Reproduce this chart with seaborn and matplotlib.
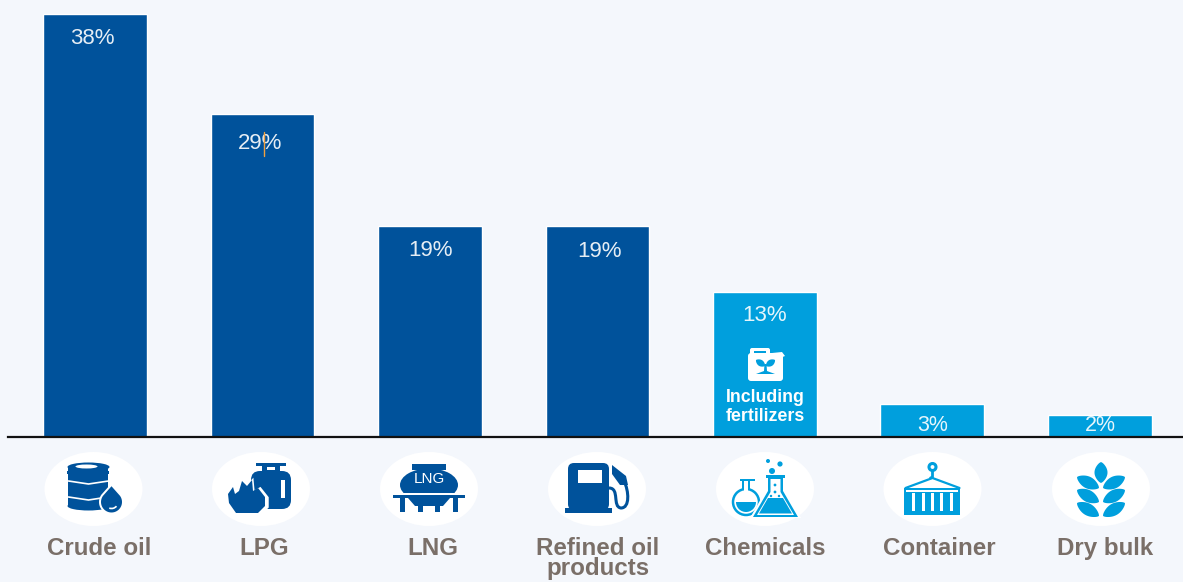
import numpy as np
import matplotlib
matplotlib.use("Agg")
import matplotlib.pyplot as plt
from matplotlib.patches import Ellipse, Circle, Rectangle, Polygon, FancyBboxPatch, Arc, PathPatch, Wedge
from matplotlib.path import Path
from matplotlib.transforms import ScaledTranslation
import seaborn as sns

cargo_types = ["Crude oil", "LPG", "LNG", "Refined oil\nproducts", "Chemicals", "Container", "Dry bulk"]
shares = [38, 29, 19, 19, 13, 3, 2]
share_labels = ["38%", "29%", "19%", "19%", "13%", "3%", "2%"]

DARK = "#00529B"
LIGHT = "#009FDD"
BG = "#F4F7FC"
TEXT = "#7A6F68"
bar_colors = [DARK, DARK, DARK, DARK, LIGHT, LIGHT, LIGHT]

sns.set_theme(style="white")
plt.rcParams["font.family"] = ["Liberation Sans", "DejaVu Sans"]

W, H = 1183, 582
fig = plt.figure(figsize=(W / 100, H / 100), dpi=100, facecolor=BG)

# Bar panel: the zero line sits at the bottom edge of these axes
ax = fig.add_axes([8 / W, (H - 437) / H, (W - 8) / W, 437 / H], facecolor="none")
sns.barplot(x=cargo_types, y=shares, hue=cargo_types, palette=bar_colors,
            legend=False, dodge=False, width=0.62, saturation=1, ax=ax)
ax.set_xlim(-0.519, 6.496)
ax.set_ylim(0, 39.28)
ax.set_yticks([])
ax.set_ylabel("")
ax.set_xlabel("")
sns.despine(ax=ax, left=True)
ax.spines["bottom"].set_color("#111111")
ax.spines["bottom"].set_linewidth(1.6)
ax.tick_params(axis="x", length=0, pad=72)

# Category names under the icons, each shifted a few pixels off its bar centre
category_shift_px = [4.5, 1.5, 2.5, 0.5, 0.5, 6.5, 5]
for tick, shift in zip(ax.get_xticklabels(), category_shift_px):
    tick.set_fontsize(17.4)
    tick.set_fontweight("bold")
    tick.set_color(TEXT)
    tick.set_linespacing(0.84)
    tick.set_transform(tick.get_transform() + ScaledTranslation(shift / 100, 0, fig.dpi_scale_trans))

# Percentages inside the bars, with per-label pixel nudges
value_dx_px = [-3, -2, 0.5, 2.5, -0.5, 0, 0.5]
value_dy_px = [24.5, 29, 25, 25.5, 23.5, 0, 0]
for i, (value, label) in enumerate(zip(shares, share_labels)):
    if value <= 3:
        # the two shortest bars hold their label just above the zero line
        ax.annotate(label, (i, 0), xytext=(value_dx_px[i] * 0.72, 11.5 * 0.72), textcoords="offset points",
                    ha="center", va="center", color="white", fontsize=15.5, alpha=0.9)
    else:
        ax.annotate(label, (i, value), xytext=(value_dx_px[i] * 0.72, -value_dy_px[i] * 0.72),
                    textcoords="offset points", ha="center", va="center", color="white",
                    fontsize=16, alpha=0.9)

# Overlay in pixel units for the pictograms
ov = fig.add_axes([0, 0, 1, 1], facecolor="none")
ov.set_xlim(0, W)
ov.set_ylim(H, 0)
ov.axis("off")


def rect(x0, y0, x1, y1, color, z=3):
    ov.add_patch(Rectangle((x0, y0), x1 - x0, y1 - y0, fc=color, ec="none", zorder=z))


def rrect(x0, y0, x1, y1, r, color, z=3):
    ov.add_patch(FancyBboxPatch((x0 + r, y0 + r), x1 - x0 - 2 * r, y1 - y0 - 2 * r,
                                boxstyle=f"round,pad={r},rounding_size={r}",
                                fc=color, ec="none", zorder=z))


def poly(points, color, z=3):
    ov.add_patch(Polygon(points, closed=True, fc=color, ec="none", zorder=z))


def lens(x0, y0, x1, y1, bulge, color, z=3):
    """Pointed leaf between two tips."""
    p0, p1 = np.array([x0, y0], float), np.array([x1, y1], float)
    d = p1 - p0
    n = np.array([-d[1], d[0]]) / np.hypot(*d)
    t = np.linspace(0, 1, 24)[:, None]
    mid = p0 + d * t
    offset = (np.sin(np.pi * t) ** 0.7) * bulge * n
    poly(np.vstack([mid + offset, (mid - offset)[::-1]]), color, z)


def drop(x, y, r, color, z):
    t = np.linspace(-0.2 * np.pi, 1.2 * np.pi, 40)
    arc = np.c_[x + r * np.cos(t), y + r * np.sin(t)]
    poly(np.vstack([arc, [[x, y - 1.5 * r]]]), color, z)


def barrel(cx, cy):
    rect(cx - 25, cy - 22, cx + 15, cy + 18, DARK)
    ov.add_patch(Ellipse((cx - 5, cy - 22), 42, 9, fc=DARK, ec="none", zorder=3))
    ov.add_patch(Ellipse((cx - 7, cy - 22.5), 22, 4, fc="white", ec="none", zorder=4))
    ov.add_patch(Ellipse((cx - 5, cy + 17), 42, 9, fc=DARK, ec="none", zorder=3))
    rect(cx - 26, cy - 18, cx + 16, cy - 15, DARK)
    ov.plot([cx - 25, cx - 5, cx + 15], [cy - 8, cy - 5, cy - 8], color="white", lw=1.2, zorder=4)
    ov.plot([cx - 25, cx - 5, cx + 8], [cy + 8, cy + 11, cy + 9], color="white", lw=1.2, zorder=4)
    drop(cx + 18, cy + 13, 12.5, "white", 4)
    drop(cx + 18, cy + 13, 10.5, DARK, 5)
    ov.add_patch(Arc((cx + 18, cy + 13), 13, 13, theta1=40, theta2=110, color="white", lw=1.2, zorder=6))


def lpg(cx, cy):
    rect(cx - 5, cy - 26, cx + 25, cy - 23, DARK)
    rect(cx + 1, cy - 23, cx + 19, cy - 15, DARK)
    rect(cx + 6, cy - 22, cx + 14, cy - 19, "white", 4)
    rrect(cx - 10, cy - 18, cx + 30, cy + 20, 9, DARK)
    rect(cx + 20, cy - 9, cx + 24, cy + 9, "white", 4)
    flame = [(-32, 14), (-33, 5), (-28, -2), (-26, 5), (-22, 2), (-19, -8), (-14, -3), (-9, -9),
             (-8, 2), (-3, -1), (4, 8), (4, 17), (-3, 24), (-25, 24)]
    halo = [(cx + 1.18 * x + 3, cy + 1.15 * y - 1) for x, y in flame]
    poly(halo, "white", 4)
    poly([(cx + x, cy + y) for x, y in flame], DARK, 5)


def lng(cx, cy):
    rect(cx - 17, cy - 25, cx + 17, cy - 19, DARK)
    ov.add_patch(Ellipse((cx, cy - 4), 58, 33, fc=DARK, ec="none", zorder=3))
    rect(cx - 36, cy + 3.5, cx + 36, cy + 6, "white", 4)
    ov.text(cx, cy - 10, "LNG", color="white", fontsize=11, ha="center", va="center", zorder=5)
    rect(cx - 36, cy + 6, cx + 36, cy + 9, DARK, 5)
    for x0 in (-29, 24, -11, 6):
        rect(cx + x0, cy + 9, cx + x0 + 5, cy + 23, DARK)
    poly([(cx - 21, cy + 9), (cx + 21, cy + 9), (cx + 14, cy + 17), (cx - 14, cy + 17)], DARK)


def pump(cx, cy):
    rrect(cx - 29, cy - 26, cx + 12, cy + 21, 6, DARK)
    rect(cx - 32, cy + 19, cx + 15, cy + 24, DARK)
    rect(cx - 19, cy - 19, cx + 5, cy - 6, "white", 4)
    hose = Path([(cx + 12, cy - 1), (cx + 23, cy - 1), (cx + 15, cy + 18), (cx + 24, cy + 19),
                 (cx + 33, cy + 19), (cx + 32, cy + 2), (cx + 27, cy - 8)],
                [Path.MOVETO, Path.CURVE4, Path.CURVE4, Path.CURVE4, Path.CURVE4, Path.CURVE4, Path.CURVE4])
    ov.add_patch(PathPatch(hose, fc="none", ec=DARK, lw=2.2, zorder=3))
    poly([(cx + 15, cy - 24), (cx + 29, cy - 13), (cx + 31, cy - 4), (cx + 23, cy - 4), (cx + 15, cy - 15)], DARK)


def chemicals(cx, cy):
    # round flask
    ov.add_patch(Circle((cx - 19, cy + 13), 13, fc="white", ec=LIGHT, lw=1.8, zorder=3))
    ov.add_patch(Wedge((cx - 19, cy + 13), 10, 0, 180, fc=LIGHT, ec="none", zorder=4))
    rect(cx - 25, cy - 10, cx - 10, cy - 8, LIGHT, 5)
    rect(cx - 23, cy - 9, cx - 21, cy + 1, LIGHT, 4)
    rect(cx - 17, cy - 9, cx - 15, cy + 1, LIGHT, 4)
    rect(cx - 21, cy - 8, cx - 17, cy + 3, "white", 4)
    # conical flask, white halo first so it stands clear of the round one
    poly([(cx + 1, cy - 13), (cx + 20, cy - 13), (cx + 20, cy + 1), (cx + 36, cy + 29),
          (cx - 15, cy + 29), (cx + 1, cy + 1)], "white", 5)
    poly([(cx + 3, cy - 11), (cx + 18, cy - 11), (cx + 18, cy + 2), (cx + 33, cy + 28),
          (cx - 12, cy + 28), (cx + 3, cy + 2)], LIGHT, 5)
    poly([(cx + 5.5, cy - 10), (cx + 15.5, cy - 10), (cx + 15.5, cy + 3), (cx + 29, cy + 26),
          (cx - 8, cy + 26), (cx + 5.5, cy + 3)], "white", 6)
    poly([(cx + 3, cy + 9), (cx + 18, cy + 9), (cx + 27, cy + 24.5), (cx - 6, cy + 24.5)], LIGHT, 7)
    rect(cx + 1, cy - 14, cx + 20, cy - 11, LIGHT, 7)
    for x, y, r in [(3, -28, 2), (15, -25, 2.6), (7, -18, 3), (10, -4, 1.4), (10, 3, 1.4), (6, 7, 1.2), (14, 7, 1.2)]:
        ov.add_patch(Circle((cx + x, cy + y), r, fc=LIGHT, ec="none", zorder=8))


def container(cx, cy):
    ov.add_patch(Circle((cx, cy - 22), 3.5, fc="white", ec=LIGHT, lw=2.2, zorder=3))
    ov.plot([cx, cx, cx - 2], [cy - 18, cy - 12, cy - 11], color=LIGHT, lw=2, zorder=3)
    ov.plot([cx - 27, cx, cx + 27], [cy - 1, cy - 11, cy - 1], color=LIGHT, lw=1.6, zorder=3)
    rect(cx - 28, cy - 1, cx + 28, cy + 26, LIGHT)
    rect(cx - 26, cy + 1, cx + 26, cy + 3, "white", 4)
    for x in (-19, -9, 0, 9, 19):
        rect(cx + x - 1.2, cy + 4, cx + x + 1.2, cy + 22, "white", 4)


def wheat(cx, cy):
    lens(cx, cy - 27, cx, cy - 6, 6.5, LIGHT)
    for low, high in [(-1, -12), (13, 1), (27, 14)]:
        lens(cx - 2, cy + low, cx - 24, cy + high, 6, LIGHT)
        lens(cx + 2, cy + low, cx + 24, cy + high, 6, LIGHT)


icon_centres = [93.5, 261, 429, 597, 765, 932.5, 1101]
for x in icon_centres:
    ov.add_patch(Ellipse((x, 489), 98, 74, fc="white", ec="none", zorder=2))
for draw, x in zip([barrel, lpg, lng, pump, chemicals, container, wheat], icon_centres):
    draw(x, 489)

# Canister and note inside the chemicals bar
rrect(748, 353, 783, 381, 3, "white", 5)
rrect(750, 348, 770, 356, 2, "white", 5)
poly([(772, 353), (782, 352), (785, 356), (780, 358)], "white", 5)
rect(754, 351, 766, 353, LIGHT, 6)
lens(765, 366, 756, 360, 3.2, LIGHT, 6)
lens(766, 366, 775, 360, 3.2, LIGHT, 6)
poly([(764.5, 364), (766.5, 364), (767, 371), (775, 374), (756, 374), (764, 371)], LIGHT, 6)
ov.text(765, 407, "Including\nfertilizers", color="white", fontsize=12.8, fontweight="bold",
        ha="center", va="center", linespacing=1.08, zorder=5)

# Thin orange stroke through the 29% label
ov.plot([264.5, 264.5], [132, 156], color="#F0A040", lw=1, zorder=6)

fig.savefig("out.png", dpi=100, facecolor=BG)
